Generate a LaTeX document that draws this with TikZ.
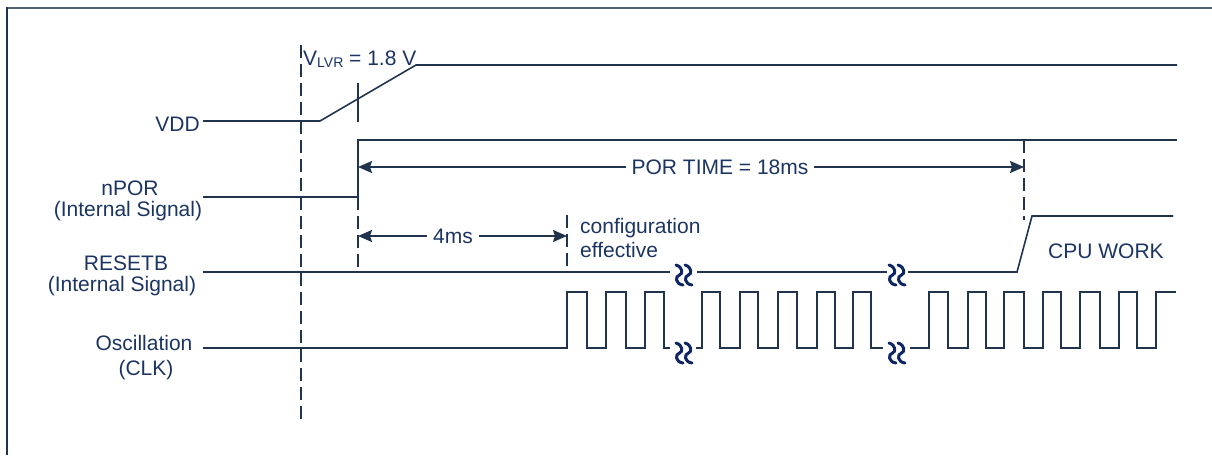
\documentclass[tikz,border=0pt]{standalone}
\usepackage{fontspec}
\setmainfont{Liberation Sans}
\usetikzlibrary{arrows.meta}
\definecolor{txt}{RGB}{28,52,98}
\definecolor{ln}{RGB}{32,52,78}
\definecolor{sq}{RGB}{14,38,100}
\definecolor{bordtop}{RGB}{80,98,118}
\definecolor{bordleft}{RGB}{30,50,75}
\begin{document}
\begin{tikzpicture}[x=1pt,y=-1pt,
  lbl/.style={inner sep=0pt, text=txt, font=\fontsize{21}{24}\selectfont},
  wave/.style={draw=ln, line width=1.6pt, line join=miter},
  guide/.style={draw=ln, line width=1.4pt, dash pattern=on 13pt off 6pt},
  dimline/.style={draw=ln, line width=1.6pt, {Stealth[length=14pt,width=12pt,inset=2pt]}-{Stealth[length=14pt,width=12pt,inset=2pt]}},
  gapbox/.style={fill=white, inner xsep=6pt, inner ysep=2pt},
  brk/.style={draw=sq, line width=3pt, line cap=round},
  brkpair/.pic={
    \draw[brk] (-8,-10) .. controls (-1,-8) and (-1,-1) .. (-4.5,0) .. controls (-9,1) and (-9,9) .. (-1,10);
    \draw[brk] (1,-10) .. controls (8,-8) and (8,-1) .. (4.5,0) .. controls (0,1) and (0,9) .. (8,10);
  },
]
\useasboundingbox (0,0) rectangle (1212,455);
% frame
\draw[draw=bordtop, line width=2.5pt] (6,8) -- (1212,8);
\draw[draw=bordleft, line width=2.5pt] (7,7) -- (7,455);

% labels
\node[lbl, anchor=base east] (vdd) at (200,131) {VDD};
\node[lbl, anchor=base west] (vlvr) at (303,65) {V{\fontsize{14}{14}\selectfont\raisebox{-2pt}{LVR}} = 1.8 V};
\node[lbl, anchor=base] (npor) at (130,195) {nPOR};
\node[lbl, anchor=base] (npori) at (128,216) {(Internal Signal)};
\node[lbl, anchor=base] (rst) at (126,270) {RESETB};
\node[lbl, anchor=base] (rsti) at (122,291) {(Internal Signal)};
\node[lbl, anchor=base] (osc) at (144,350) {Oscillation};
\node[lbl, anchor=base] (clk) at (146,375) {(CLK)};
\node[lbl, anchor=base west] (cfg1) at (580,233) {configuration};
\node[lbl, anchor=base west] (cfg2) at (580,257) {effective};
\node[lbl, anchor=base west] (cpu) at (1048,258) {CPU WORK};

% guide lines
\draw[guide] (301,45) -- (301,420);
\draw[draw=ln, line width=1.4pt] (358,83) -- (358,122);
\draw[guide] (358,197) -- (358,272);
\draw[guide] (567,215) -- (567,272);
\draw[guide] (1024,140) -- (1024,220);

% VDD
\coordinate (vddA) at (203,121);
\coordinate (vddB) at (320,121);
\coordinate (vddC) at (416,65);
\coordinate (vddD) at (1177,65);
\draw[wave] (vddA) -- (vddB) -- (vddC) -- (vddD);

% nPOR
\draw[wave] (203,197) -- (358,197) -- (358,140) -- (1177,140);

% RESETB
\draw[wave] (203,272) -- (670,272);
\draw[wave] (697,272) -- (887,272);
\draw[wave] (908,272) -- (1017,272) -- (1032,216) -- (1173,216);

% CLK
\draw[wave] (203,348) -- (567,348) -- (567,292) -- (587,292) -- (587,348) -- (606,348) -- (606,292) -- (626,292) -- (626,348) -- (645,348) -- (645,292) -- (664,292) -- (664,348) -- (670,348);
\draw[wave] (696,348) -- (702,348) -- (702,292) -- (720,292) -- (720,348) -- (740,348) -- (740,292) -- (758,292) -- (758,348) -- (778,348) -- (778,292) -- (797,292) -- (797,348) -- (817,348) -- (817,292) -- (835,292) -- (835,348) -- (853,348) -- (853,292) -- (871,292) -- (871,348) -- (883,348);
\draw[wave] (910,348) -- (929,348) -- (929,292) -- (948,292) -- (948,348) -- (968,348) -- (968,292) -- (986,292) -- (986,348) -- (1004,348) -- (1004,292) -- (1024,292) -- (1024,348) -- (1043,348) -- (1043,292) -- (1061,292) -- (1061,348) -- (1080,348) -- (1080,292) -- (1100,292) -- (1100,348) -- (1119,348) -- (1119,292) -- (1137,292) -- (1137,348) -- (1156,348) -- (1156,292) -- (1176,292);

% breaks
\pic at (684,275) {brkpair};
\pic at (897,275) {brkpair};
\pic at (684,353) {brkpair};
\pic at (897,353) {brkpair};

% dimensions
\coordinate (porL) at (358,167);
\coordinate (porR) at (1024,167);
\draw[dimline] (porL) -- (porR);
\node[lbl, gapbox] (por) at (720,167) {POR TIME = 18ms};
\coordinate (fourL) at (358,236);
\coordinate (fourR) at (567,236);
\draw[dimline] (fourL) -- (fourR);
\node[lbl, gapbox] (four) at (453,236) {4ms};
\end{tikzpicture}
\end{document}
